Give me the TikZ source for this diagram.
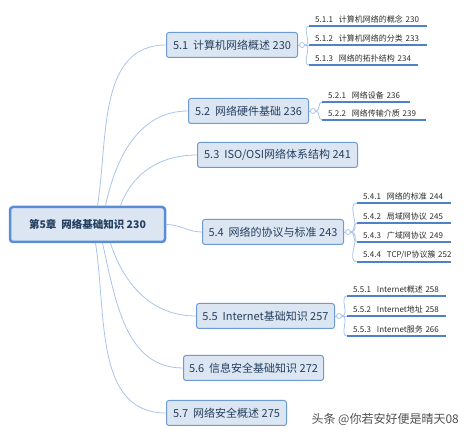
\documentclass[tikz,border=0pt]{standalone}
\usepackage{fontspec}
\setmainfont{Noto Sans CJK SC}

\definecolor{boxfill}{HTML}{DCE6F2}
\definecolor{boxline}{HTML}{6C9AD6}
\definecolor{rootline}{HTML}{5B8DD6}
\definecolor{linkline}{HTML}{A9C4EA}
\definecolor{ulinecol}{HTML}{4F81C7}
\definecolor{topictxt}{HTML}{243F60}
\definecolor{leaftxt}{HTML}{2B2B2B}
\definecolor{stamptxt}{HTML}{505050}

\begin{document}
\begin{tikzpicture}
      [x=1pt,y=-1pt,%%%%%%%%%%%%%%%%%%%%%%%%%%%%%%
      root/.style={rectangle,rounded corners=3pt,draw=rootline,line width=2.5pt,fill=boxfill,
        minimum width=155pt,minimum height=35pt,text=topictxt,
        font=\fontsize{10.5}{12}\selectfont\bfseries},
      topic/.style={rectangle,rounded corners=2.5pt,draw=boxline,line width=1pt,fill=boxfill,
        minimum width=#1,minimum height=25pt,anchor=west,text=topictxt,
        font=\fontsize{11}{13}\selectfont},
      leaf/.style={anchor=south west,inner xsep=6pt,inner ysep=3pt,text width=#1,align=left,
        text=leaftxt,font=\fontsize{8}{10}\selectfont},
      knob/.style={circle,draw=linkline,fill=white,line width=0.8pt,inner sep=0pt,minimum size=5pt},
      link/.style={draw=linkline,line width=0.8pt},
      under/.style={draw=ulinecol,line width=1.6pt},
      stamp/.style={anchor=west,text=stamptxt,font=\fontsize{12}{14}\selectfont},
      ]%%%%%%%%%%%%%%%%%%%%%%%%%%%%%%
      \useasboundingbox (0,0) rectangle (469,435);

      % chapter
      \node[root] (ch5) at (87.5,224.5) {第5章\ \ 网络基础知识 230};

      % sections
      \node[topic=131pt] (s1) at (166,45) {5.1\ \ 计算机网络概述 230};
      \node[topic=120pt] (s2) at (188,111) {5.2\ \ 网络硬件基础 236};
      \node[topic=160pt] (s3) at (197,155) {5.3\ \ ISO/OSI网络体系结构 241};
      \node[topic=141pt] (s4) at (202,232) {5.4\ \ 网络的协议与标准 243};
      \node[topic=138pt] (s5) at (196,316) {5.5\ \ Internet基础知识 257};
      \node[topic=140pt] (s6) at (183,368) {5.6\ \ 信息安全基础知识 272};
      \node[topic=120pt] (s7) at (166,413) {5.7\ \ 网络安全概述 275};

      \draw[link] ([xshift=10pt]ch5.north) to[out=81,in=180] (s1.west);
      \draw[link] ([xshift=18pt]ch5.north) to[out=78,in=180] (s2.west);
      \draw[link] ([xshift=33pt]ch5.north) to[out=70,in=180] (s3.west);
      \draw[link] (ch5.east) to[out=0,in=180] (s4.west);
      \draw[link] ([xshift=23pt]ch5.south) to[out=-72,in=180] (s5.west);
      \draw[link] ([xshift=15pt]ch5.south) to[out=-77,in=180] (s6.west);
      \draw[link] ([xshift=8pt]ch5.south) to[out=-81,in=180] (s7.west);

      % subsections
      \node[leaf=106pt] (s11) at (309,26) {5.1.1\hspace{6pt}计算机网络的概念 230};
      \node[leaf=106pt] (s12) at (309,45) {5.1.2\hspace{6pt}计算机网络的分类 233};
      \node[leaf=97pt]  (s13) at (309,65) {5.1.3\hspace{6pt}网络的拓扑结构 234};

      \node[leaf=76pt] (s21) at (322,102) {5.2.1\hspace{6pt}网络设备 236};
      \node[leaf=92pt] (s22) at (322,120) {5.2.2\hspace{6pt}网络传输介质 239};

      \node[leaf=82pt] (s41) at (357,203) {5.4.1\hspace{6pt}网络的标准 244};
      \node[leaf=82pt] (s42) at (357,223) {5.4.2\hspace{6pt}局域网协议 245};
      \node[leaf=82pt] (s43) at (357,242) {5.4.3\hspace{6pt}广域网协议 249};
      \node[leaf=82pt] (s44) at (357,262) {\mbox{5.4.4\hspace{6pt}TCP/IP协议簇 252}};

      \node[leaf=87pt] (s51) at (347,296) {5.5.1\hspace{6pt}Internet概述 258};
      \node[leaf=87pt] (s52) at (347,316) {5.5.2\hspace{6pt}Internet地址 258};
      \node[leaf=87pt] (s53) at (347,336) {5.5.3\hspace{6pt}Internet服务 266};

      \foreach \s in {s1,s2,s4,s5}{
        \draw[link] (\s.east) -- ++(4,0);
        \node[knob] (k\s) at ([xshift=4pt]\s.east){};
      }

      \foreach \n/\k in {s11/s1,s12/s1,s13/s1,s21/s2,s22/s2,s41/s4,s42/s4,s43/s4,s44/s4,s51/s5,s52/s5,s53/s5}{
        \draw[link] (k\k.east) to[out=0,in=180] (\n.south west);
        \draw[under] (\n.south west) -- (\n.south east);
      }

      \node[stamp] (wm) at (308,419) {头条 @你若安好便是晴天08};
    \end{tikzpicture}
\end{document}
